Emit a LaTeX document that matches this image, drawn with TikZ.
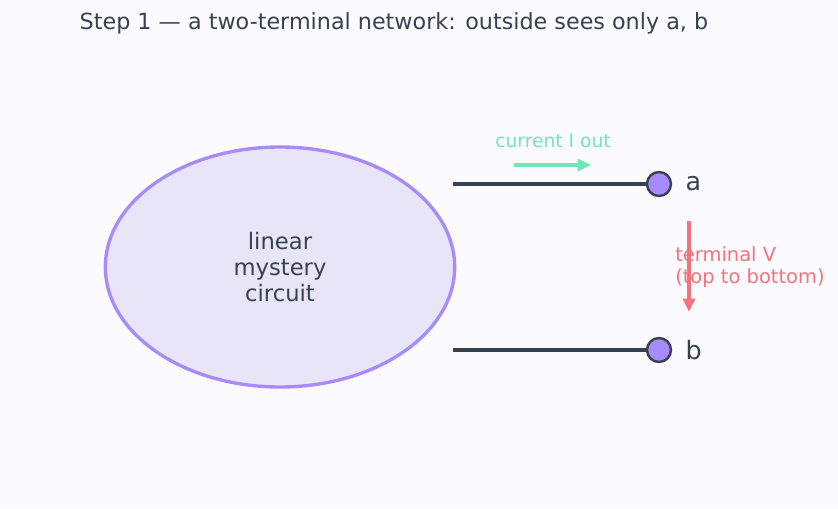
\documentclass[tikz,border=0pt]{standalone}
\usepackage{fontspec}
\setmainfont{DejaVu Sans}
\usetikzlibrary{arrows.meta,calc,positioning,shapes.geometric}
\definecolor{bgc}{HTML}{FBFBFE}
\definecolor{ink}{HTML}{374151}
\definecolor{purp}{HTML}{A78BFA}
\definecolor{lav}{HTML}{E9E5F8}
\definecolor{mint}{HTML}{6EE7B7}
\definecolor{rose}{HTML}{F4727F}
\tikzset{
    blob/.style =   {ellipse,
                    fill=lav,
                    draw=purp,
                    text=ink,
                    line width=2.5pt,
                    minimum width=262pt,
                    minimum height=180pt,
                    align=center,
                    font=\fontsize{17}{19.5}\selectfont},
    term/.style =   {circle,
                    fill=purp,
                    draw=ink,
                    line width=1.8pt,
                    minimum size=18pt,
                    inner sep=0pt},
    lead/.style =   {draw=ink,
                    line width=2.8pt},
    tlabel/.style = {text=ink,
                    anchor=west,
                    font=\fontsize{19}{22}\selectfont},
    -,
    >={Triangle[length=10pt,width=9pt]},
    x=0.75pt,
    y=-0.75pt}

\begin{document}
\begin{tikzpicture}
                    \fill[bgc] (0,0) rectangle (838,508);
                    \useasboundingbox (0,0) rectangle (838,508);
                    \node[anchor=west, text=ink, font=\fontsize{16.7}{20}\selectfont] (title) at (75,23) {Step 1 — a two-terminal network: outside sees only a, b};
                    \node[blob]      (box) at (280,267)   {linear\\mystery\\circuit};
                    \coordinate      (la) at (453,184);
                    \coordinate      (lb) at (453,350);
                    \node[term]      (A) at (659,184)     {};
                    \node[term]      (B) at (659,350)     {};
                    \node[tlabel]    (na) at (681,184)    {a};
                    \node[tlabel]    (nb) at (681,350)    {b};
                    \path[lead]      (la) -- (A.west)
                                     (lb) -- (B.west);
                    % current arrow
                    \coordinate      (i0) at (514,165);
                    \coordinate      (i1) at (591,165);
                    \draw[->, mint, line width=2.8pt] (i0) -- (i1);
                    \node[text=mint, font=\fontsize{14}{16}\selectfont] (ilab) at (553,141) {current I out};
                    % voltage arrow
                    \coordinate      (v0) at (689,221);
                    \coordinate      (v1) at (689,312);
                    \draw[->, rose, line width=2.8pt] (v0) -- (v1);
                    \node[text=rose, anchor=west, align=left, inner sep=0pt, font=\fontsize{14.6}{16.5}\selectfont] (vlab) at (675,267) {terminal V\\(top to bottom)};
        \end{tikzpicture}
\end{document}
